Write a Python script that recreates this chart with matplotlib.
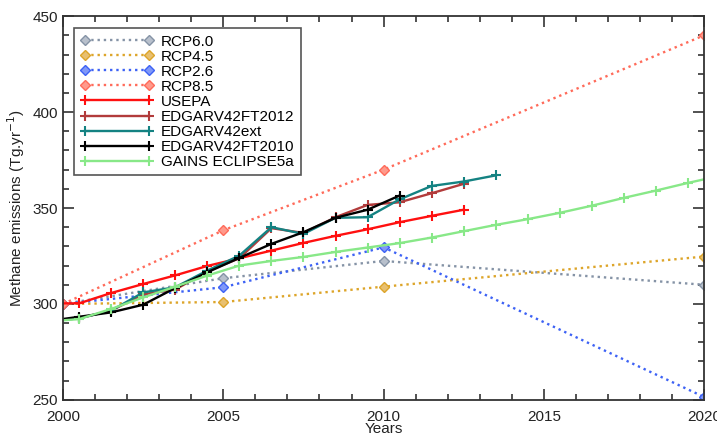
import matplotlib.pyplot as plt
from matplotlib.ticker import MultipleLocator

plt.rcParams['font.family'] = ['Liberation Sans', 'DejaVu Sans']

# RCP scenarios (decadal / 5-year points)
rcp_years = [2000, 2005, 2010, 2020]
rcp60 = [300, 313.4, 322.4, 310.0]
rcp45 = [300, 301.0, 309.0, 324.7]
rcp26 = [300, 308.7, 329.5, 251.5]
rcp85 = [300, 338.4, 370.0, 440.0]

# inventories (mid-year values)
usepa_years = [1999.5, 2000.5, 2001.5, 2002.5, 2003.5, 2004.5, 2005.5, 2006.5,
               2007.5, 2008.5, 2009.5, 2010.5, 2011.5, 2012.5]
usepa = [300.3, 300.3, 305.7, 310.4, 314.9, 319.8, 323.8, 327.8,
         331.8, 335.5, 338.9, 342.6, 345.9, 349.1]

edgar2012_years = usepa_years
edgar2012 = [291.0, 292.5, 296.5, 305.0, 307.5, 317.0, 323.8, 339.5,
             337.0, 345.2, 351.6, 353.0, 357.7, 362.6]

edgarext_years = usepa_years + [2013.5]
edgarext = [291.0, 292.5, 296.5, 306.0, 308.7, 317.4, 325.2, 340.0,
            336.5, 344.9, 345.2, 354.5, 361.5, 363.8, 367.0]

edgar2010_years = usepa_years[:12]
edgar2010 = [291.0, 293.3, 295.6, 299.6, 308.3, 316.5, 324.0, 331.3,
             337.4, 344.9, 349.1, 356.5]

gains_years = [1999.5 + i for i in range(22)]
gains = [290.8, 292.1, 297.4, 303.4, 309.0, 314.8, 320.0, 322.4, 324.5,
         327.1, 329.4, 331.7, 334.6, 337.9, 341.2, 344.2, 347.5, 351.2,
         355.3, 359.1, 363.1, 366.8]

fig = plt.figure(figsize=(7.17, 4.37), dpi=100)
ax = fig.add_axes([0.088, 0.085, 0.894, 0.878])

dot = dict(linestyle=':', linewidth=1.7, marker='D', markersize=5)
ax.plot(rcp_years, rcp60, color='#8593A6', mfc='#B8C0CC', label='RCP6.0', **dot)
ax.plot(rcp_years, rcp45, color='#DDA52A', mfc='#E8C070', label='RCP4.5', **dot)
ax.plot(rcp_years, rcp26, color='#3D62F5', mfc='#8098F8', label='RCP2.6', **dot)
ax.plot(rcp_years, rcp85, color='#FF6B5A', mfc='#FF9A8C', label='RCP8.5', **dot)

sol = dict(linestyle='-', linewidth=1.7, marker='+', markersize=7, mew=1.5)
ax.plot(usepa_years, usepa, color='#FF1010', label='USEPA', **sol)
ax.plot(edgar2012_years, edgar2012, color='#B23B3B', label='EDGARV42FT2012', **sol)
ax.plot(edgarext_years, edgarext, color='#148282', label='EDGARV42ext', **sol)
ax.plot(edgar2010_years, edgar2010, color='black', label='EDGARV42FT2010', **sol)
ax.plot(gains_years, gains, color='#88E888', label='GAINS ECLIPSE5a', **sol)

ax.set_xlim(2000, 2020)
ax.set_ylim(250, 450)
ax.xaxis.set_major_locator(MultipleLocator(5))
ax.xaxis.set_minor_locator(MultipleLocator(1))
ax.yaxis.set_major_locator(MultipleLocator(50))
ax.yaxis.set_minor_locator(MultipleLocator(10))
ax.tick_params(which='both', direction='in', top=True, right=True,
               labelsize=11, colors='#333333', labelcolor='#222222')
ax.tick_params(which='major', length=8, width=1.2)
ax.tick_params(which='minor', length=4, width=1.2)
ax.tick_params(axis='x', pad=7)
for s in ax.spines.values():
    s.set_linewidth(1.3)
    s.set_color('#333333')

ax.set_xlabel('Years', fontsize=11, labelpad=-1, color='#222222')
ax.set_ylabel('Methane emissions (Tg.yr$^{-1}$)', fontsize=11, labelpad=4,
              color='#222222')

leg = ax.legend(loc='upper left', bbox_to_anchor=(0.005, 0.988), fontsize=11,
                numpoints=2, handlelength=4.8, handletextpad=0.5,
                labelspacing=0.07, borderpad=0.4, fancybox=False,
                framealpha=1)
leg.get_frame().set_edgecolor('#555555')
leg.get_frame().set_linewidth(1.2)

plt.savefig('out.png', dpi=100)
